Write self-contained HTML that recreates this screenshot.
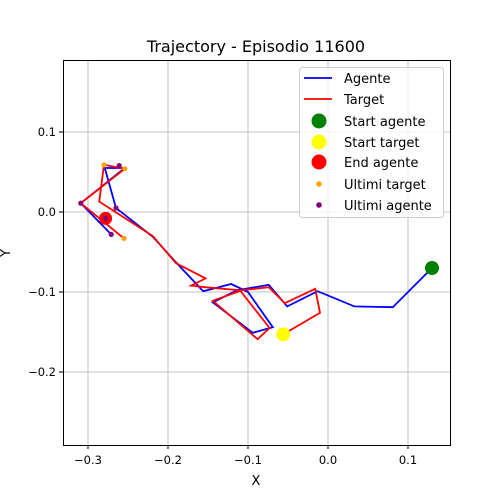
<!DOCTYPE html>
<html><head><meta charset="utf-8"><style>
body{margin:0;background:#fff;}
svg{display:block;font-family:"DejaVu Sans","Liberation Sans",sans-serif;}
</style></head><body>
<svg id="chart" width="500" height="500" viewBox="0 0 500 500">
<rect width="500" height="500" fill="#fff"/>
<text x="256" y="52" font-size="16" text-anchor="middle">Trajectory - Episodio 11600</text>
<g id="grid"></g>
<g id="ticks"></g>
<g id="plot"></g>
<rect x="63.5" y="60.5" width="387" height="385" fill="none" stroke="#000" stroke-width="1"/>
<text x="256" y="485" font-size="13" text-anchor="middle">X</text>
<text x="0" y="0" font-size="13" text-anchor="middle" transform="translate(10,253) rotate(-90)">Y</text>
<g id="legend">
<rect x="299.5" y="67.5" width="144" height="150" rx="3" fill="#fff" fill-opacity="0.8" stroke="#ccc"/>
<line x1="304" y1="78" x2="332" y2="78" stroke="blue" stroke-width="1.8"/>
<text x="344" y="83" font-size="13">Agente</text>
<line x1="304" y1="99" x2="332" y2="99" stroke="red" stroke-width="1.8"/>
<text x="344" y="104" font-size="13">Target</text>
<circle cx="319" cy="121" r="7.5" fill="green"/>
<text x="344" y="126" font-size="13">Start agente</text>
<circle cx="319" cy="142" r="7.5" fill="yellow"/>
<text x="344" y="147" font-size="13">Start target</text>
<circle cx="319" cy="162" r="7.5" fill="red"/>
<text x="344" y="167" font-size="13">End agente</text>
<circle cx="319" cy="184" r="2.8" fill="orange"/>
<text x="344" y="189" font-size="13">Ultimi target</text>
<circle cx="319" cy="205" r="2.8" fill="purple"/>
<text x="344" y="210" font-size="13">Ultimi agente</text>
</g>
</svg>
<script>
const xTicks=[-0.3,-0.2,-0.1,0.0,0.1];
const xTickLabels=["−0.3","−0.2","−0.1","0.0","0.1"];
const yTicks=[0.1,0.0,-0.1,-0.2];
const yTickLabels=["0.1","0.0","−0.1","−0.2"];
const agenteX=[0.130,0.081,0.033,-0.013,-0.051,-0.074,-0.114,-0.144,-0.094,-0.069,-0.100,-0.121,-0.156,-0.190,-0.219,-0.265,-0.279,-0.254,-0.309,-0.271];
const agenteY=[-0.070,-0.119,-0.118,-0.099,-0.118,-0.091,-0.098,-0.113,-0.151,-0.144,-0.100,-0.090,-0.099,-0.063,-0.031,0.005,0.055,0.055,0.011,-0.028];
const targetX=[-0.056,-0.010,-0.016,-0.054,-0.074,-0.110,-0.073,-0.088,-0.144,-0.108,-0.154,-0.171,-0.153,-0.190,-0.219,-0.286,-0.280,-0.254,-0.309,-0.255];
const targetY=[-0.153,-0.126,-0.096,-0.114,-0.094,-0.098,-0.145,-0.159,-0.111,-0.098,-0.094,-0.092,-0.083,-0.064,-0.030,0.013,0.059,0.054,0.011,-0.033];
const ultimiTargetX=[-0.280,-0.254,-0.309,-0.255,-0.278];
const ultimiTargetY=[0.059,0.054,0.011,-0.033,-0.008];
const ultimiAgenteX=[-0.261,-0.265,-0.309,-0.271,-0.278];
const ultimiAgenteY=[0.058,0.005,0.011,-0.028,-0.008];
const endAgente=[-0.278,-0.008];

const NS="http://www.w3.org/2000/svg";
function sx(v){return 328+v*800;}
function sy(v){return 212-v*800;}
function mk(tag,attrs,parent){const e=document.createElementNS(NS,tag);for(const k in attrs)e.setAttribute(k,attrs[k]);parent.appendChild(e);return e;}
const grid=document.getElementById('grid'),ticks=document.getElementById('ticks'),plot=document.getElementById('plot');
xTicks.forEach((v,i)=>{
  const g=mk('line',{x1:sx(v),x2:sx(v),y1:60,y2:445,stroke:'#b0b0b0','stroke-width':0.8},grid);
  
  
  mk('line',{x1:sx(v),x2:sx(v),y1:445,y2:449,stroke:'#000'},ticks);
  const t=mk('text',{x:sx(v),y:464,'font-size':11.5,'text-anchor':'middle'},ticks);
  t.textContent=xTickLabels[i];
  
  
});
yTicks.forEach((v,i)=>{
  const g=mk('line',{x1:63,x2:450,y1:sy(v),y2:sy(v),stroke:'#b0b0b0','stroke-width':0.8},grid);
  
  
  mk('line',{x1:59,x2:63,y1:sy(v),y2:sy(v),stroke:'#000'},ticks);
  const t=mk('text',{x:56,y:sy(v)+4,'font-size':11.5,'text-anchor':'end'},ticks);
  t.textContent=yTickLabels[i];
  
  
});
function pts(xs,ys){return xs.map((x,i)=>sx(x)+','+sy(ys[i])).join(' ');}
const la=mk('polyline',{points:pts(agenteX,agenteY),fill:'none',stroke:'blue','stroke-width':1.8},plot);


const lt=mk('polyline',{points:pts(targetX,targetY),fill:'none',stroke:'red','stroke-width':1.8},plot);


const sa=mk('circle',{cx:sx(agenteX[0]),cy:sy(agenteY[0]),r:7,fill:'green'},plot);


const st=mk('circle',{cx:sx(targetX[0]),cy:sy(targetY[0]),r:7,fill:'yellow'},plot);


const ea=mk('circle',{cx:sx(endAgente[0]),cy:sy(endAgente[1]),r:6.5,fill:'red'},plot);


ultimiTargetX.forEach((x,i)=>{
  const c=mk('circle',{cx:sx(x),cy:sy(ultimiTargetY[i]),r:2.6,fill:'orange'},plot);
  
  
});
ultimiAgenteX.forEach((x,i)=>{
  const c=mk('circle',{cx:sx(x),cy:sy(ultimiAgenteY[i]),r:2.6,fill:'purple'},plot);
  
  
});
</script>
</body></html>
